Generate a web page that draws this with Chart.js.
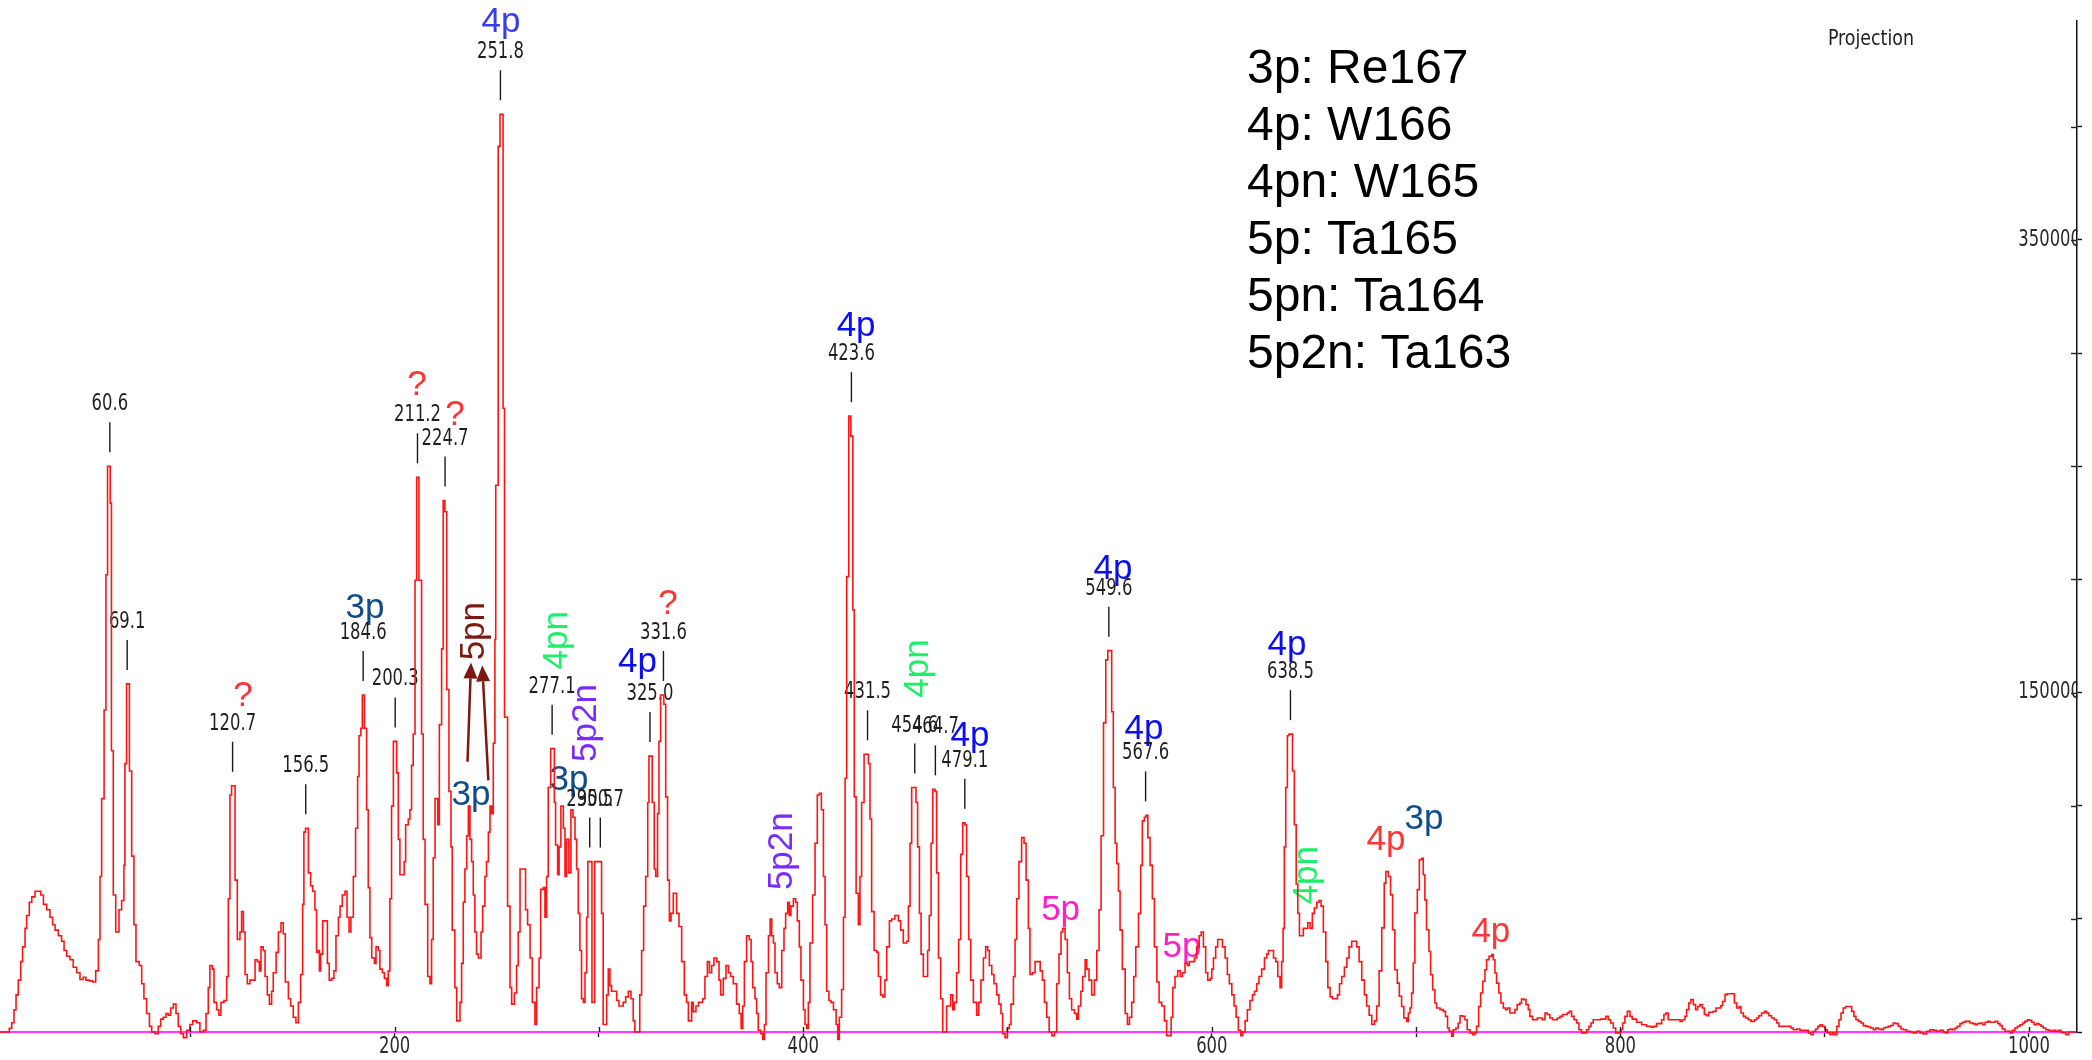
<!DOCTYPE html>
<html>
<head>
<meta charset="utf-8">
<title>Projection</title>
<script src="https://cdn.jsdelivr.net/npm/chart.js@4.4.1/dist/chart.umd.min.js"></script>
<style>
  html, body { margin: 0; padding: 0; background: #fff; }
  #spectrum { display: block; }
</style>
</head>
<body>
<canvas id="spectrum" width="2092" height="1060"></canvas>
<script>
// Gated projection spectrum: [channel, counts] at each step of the histogram.
const spectrumA = [ // channels 7-180
  [6.85,0],[11.4,1600],[12.6,4100],[13.7,9800],[14.7,16400],[15.8,22900],[17.0,31100],[17.9,37600],[19.1,45800],[19.9,51500],
  [21.2,57300],[22.4,59700],[24.0,62200],[26.8,60500],[28.1,56400],[29.7,54000],[31.3,50700],[32.6,47400],[33.8,45000],[35.4,42500],
  [37.0,40100],[38.2,36000],[39.5,33500],[41.1,31900],[42.7,28600],[44.4,26200],[46.0,23200],[47.6,24200],[48.9,22900],[50.6,22600],
  [52.2,22100],[53.7,27000],[55.0,40900],[55.8,68700],[56.6,103100],[57.8,142300],[58.7,202000],[59.5,250000],[60.8,233700],[61.4,124300],
  [62.3,60500],[63.5,44200],[65.1,54000],[66.4,58100],[67.5,73600],[68.0,118600],[68.8,153800],[70.2,115300],[71.3,77700],[72.4,47400],
  [73.4,31100],[75.0,29400],[76.2,21300],[77.3,14700],[78.6,8200],[80.0,2500],[81.1,0],[82.7,-800],[84.3,2500],[85.5,5700],
  [86.8,6500],[88.1,8200],[89.2,7400],[90.4,10600],[91.7,12300],[93.0,8200],[94.1,2500],[95.3,-800],[96.6,-2500],[98.2,800],
  [99.8,3300],[101.2,4900],[103.1,4100],[104.7,0],[106.4,800],[107.7,8200],[108.8,19600],[109.6,29400],[110.8,27800],[111.6,13100],
  [112.9,9800],[114.0,7400],[115.0,13100],[116.5,13900],[117.8,24500],[118.6,58900],[119.4,104700],[120.2,108800],[121.9,67100],[123.0,40900],
  [124.3,44200],[125.1,53200],[126.0,44200],[126.8,25400],[127.9,21300],[129.2,22900],[131.7,31900],[132.8,31100],[133.8,27000],[134.6,37600],
  [135.7,36000],[136.6,24500],[137.7,16400],[138.7,12300],[139.8,18000],[140.6,26200],[142.0,35200],[143.1,44200],[144.4,48300],[145.5,43400],
  [146.5,22100],[148.0,14700],[149.1,11500],[150.4,6500],[151.7,4100],[152.9,13100],[154.0,25400],[155.0,56400],[155.6,88300],[156.4,90000],
  [157.8,70300],[158.9,64600],[159.9,62200],[161.0,54000],[161.8,35200],[162.7,36000],[163.2,27000],[163.8,34400],[164.8,49100],[167.1,30300],
  [168.0,22900],[169.2,23700],[170.3,27000],[171.3,42500],[172.5,50700],[173.3,55600],[174.4,60500],[175.7,62200],[176.7,50700],[177.7,44200],
  [178.6,50700],[179.8,68700]
];
const spectrumB = [ // channels 180-345
  [180.9,90000],[181.9,112900],[182.6,130900],[183.5,134200],[184.2,148900],[185.2,134200],[186.3,98200],[187.1,63800],[187.9,41700],[188.8,32700],
  [190.1,30300],[190.9,37600],[192.0,36000],[192.8,27800],[194.0,26200],[195.0,23700],[196.1,20500],[196.9,27000],[197.7,58900],[198.5,99800],
  [199.4,128400],[201.0,114500],[201.8,85100],[202.6,69500],[204.7,75300],[205.4,91600],[206.7,94100],[207.5,98200],[208.3,117800],[209.1,131700],
  [210.0,199600],[210.8,245100],[211.9,199600],[213.2,131700],[214.0,85100],[214.9,56400],[216.2,24500],[217.3,21300],[218.1,40900],[218.9,76900],
  [219.8,103100],[221.1,91600],[221.9,135800],[223.0,169300],[223.8,234800],[224.6,229900],[225.5,151300],[226.6,106300],[227.6,81800],[228.2,45000],
  [229.5,19600],[230.4,4900],[232.0,13100],[232.8,30300],[233.6,57300],[234.4,72000],[235.3,86700],[236.1,99800],[236.9,85100],[237.7,75300],
  [238.5,60500],[239.3,44200],[240.1,34400],[241.0,32700],[242.3,44200],[243.1,55600],[244.2,68700],[245.0,75300],[245.9,88300],[246.7,99800],
  [247.5,96500],[248.3,127600],[249.1,173400],[249.5,241600],[250.7,391300],[251.6,405500],[253.1,275600],[253.8,139100],[255.3,55600],[256.5,19600],
  [257.3,12300],[258.6,17200],[259.7,29400],[260.5,44200],[261.4,72000],[264.1,54000],[265.1,47400],[266.3,32700],[267.4,13100],[268.7,3300],
  [269.5,19600],[270.7,32700],[271.5,63000],[272.8,63800],[273.6,50700],[274.4,68700],[275.2,108000],[276.4,125200],[278.2,101400],[278.8,82600],
  [279.8,69500],[280.5,81800],[281.4,99800],[282.6,90000],[283.4,68700],[284.2,85100],[285.3,70300],[286.3,98200],[287.3,94900],[288.3,85100],
  [289.1,72000],[289.9,52400],[290.7,36000],[291.5,14700],[292.4,13100],[293.2,26200],[294.0,50700],[294.6,75300],[296.6,13100],[297.9,75300],
  [301.3,52400],[302.1,3300],[303.8,16400],[304.6,27800],[305.4,20500],[306.2,18000],[308.7,13900],[309.8,11500],[311.9,13100],[313.1,15500],
  [314.4,18000],[315.7,14700],[316.8,4900],[317.6,0],[320.0,16400],[320.9,36000],[321.9,55600],[322.9,68700],[323.9,101400],[324.5,121900],
  [326.1,101400],[327.1,72000],[327.8,68700],[328.7,96500],[329.4,128400],[330.2,148900],[331.8,144800],[332.7,103900],[333.6,67100],[334.5,49100],
  [335.3,52400],[336.4,61300],[338.0,52400],[339.2,46600],[340.5,31100],[341.8,16400],[342.9,13100],[343.8,4900]
];
const spectrumC = [ // channels 345-515
  [345.4,13100],[346.2,9000],[347.5,11500],[348.7,13100],[350.8,14700],[351.9,24500],[353.1,31100],[354.1,26200],[355.2,29400],[356.3,32700],
  [357.7,31100],[358.8,22900],[359.6,16400],[360.9,23700],[362.2,29400],[363.4,26200],[364.5,24500],[365.8,21300],[367.4,12300],[368.7,8200],
  [369.6,1600],[370.4,11500],[371.2,31100],[372.3,42500],[373.6,40900],[374.5,31100],[375.3,19600],[376.4,14700],[377.2,8200],[378.0,800],
  [379.2,-800],[380.2,-3300],[381.0,3300],[381.8,26200],[383.0,42500],[383.8,49900],[384.6,42500],[385.4,39300],[386.2,26200],[387.3,21300],
  [388.3,19600],[389.5,36000],[390.6,45800],[391.4,52400],[392.4,57300],[393.2,51500],[394.0,55600],[395.2,58900],[396.3,57300],[397.1,49100],
  [398.1,37600],[398.9,22900],[400.1,9800],[400.9,3300],[401.7,1600],[402.5,13100],[403.3,39300],[404.6,60500],[405.8,83400],[406.9,104700],
  [407.9,105500],[408.9,98200],[409.9,68700],[410.7,47400],[411.5,18000],[412.6,13900],[413.6,13100],[414.8,9800],[416.1,3300],[416.9,-3300],
  [417.7,6500],[418.8,18800],[419.7,50700],[420.5,112100],[421.3,201200],[422.3,272100],[423.3,263300],[424.3,186500],[425.0,103900],[425.9,61300],
  [427.0,47400],[427.8,68700],[428.6,101400],[429.8,122700],[431.9,118600],[432.7,94100],[433.5,53200],[434.7,36000],[436.0,35200],[436.8,24500],
  [437.9,16400],[438.9,15500],[440.0,22900],[440.9,37600],[442.2,49100],[443.3,49900],[444.9,51500],[446.6,49100],[447.7,45000],[449.0,39300],
  [450.7,40100],[451.5,55600],[452.3,83400],[453.1,108000],[455.2,101400],[456.0,81800],[456.9,52400],[457.7,34400],[458.8,24500],[460.9,36000],
  [461.7,51500],[462.6,83400],[463.4,107200],[464.5,106300],[465.3,70300],[466.2,32700],[467.3,14700],[468.3,0],[470.2,11500],[472.2,16400],
  [473.2,9800],[474.0,13100],[475.1,26200],[476.1,40900],[477.1,78500],[478.1,92400],[479.2,91600],[480.0,68700],[481.0,40900],[482.0,22900],
  [483.3,13100],[484.9,7400],[485.9,13100],[487.0,22900],[488.2,32700],[489.3,37600],[490.3,36000],[491.1,29400],[492.3,25400],[493.4,21300],
  [494.7,16400],[495.8,12300],[496.8,8200],[497.6,-800],[498.8,-2500],[499.9,1600],[500.9,3300],[501.7,12300],[502.9,24500],[503.7,40900],
  [504.5,58900],[505.6,75300],[506.9,85900],[508.1,83400],[509.1,67100],[510.2,45800],[511.0,25400],[512.2,26200],[513.5,31100]
];
const spectrumD = [ // channels 515-687
  [516.0,27000],[517.1,22900],[518.1,13100],[519.2,6500],[520.4,0],[521.7,-1600],[523.0,0],[524.1,21300],[525.2,34400],[526.2,44200],
  [527.0,45800],[528.2,40900],[529.3,26200],[530.3,14700],[531.4,9800],[532.8,8200],[533.9,5700],[534.7,11500],[535.9,18000],[536.8,24500],
  [538.0,31900],[538.8,27800],[539.9,22900],[541.2,16400],[542.5,22900],[543.7,36000],[544.8,54000],[545.8,86700],[547.0,136600],[548.1,164400],
  [549.1,168500],[551.0,141500],[551.8,108000],[552.7,83400],[553.5,74400],[554.3,62200],[555.1,45000],[556.2,27800],[557.6,8200],[558.7,3300],
  [559.7,6500],[560.8,13100],[561.8,24500],[562.8,37600],[564.1,52400],[565.2,73600],[566.0,93300],[567.0,94900],[567.8,95700],[568.7,85900],
  [569.8,73600],[570.9,58900],[571.9,37600],[573.1,22100],[574.2,13100],[575.5,11500],[576.8,4900],[577.9,-1600],[580.1,6500],[580.9,19600],
  [582.0,24500],[583.3,27000],[584.5,24500],[585.6,26200],[586.9,30300],[588.1,29400],[589.0,31100],[591.5,32700],[592.6,37600],[593.8,42500],
  [594.8,44200],[595.9,37600],[597.0,26200],[598.0,22900],[599.2,23700],[600.0,27800],[600.8,32700],[601.9,37600],[602.9,40900],[605.2,37600],
  [606.5,32700],[607.6,25400],[608.6,21300],[609.8,16400],[610.9,11500],[611.9,6500],[613.0,800],[614.2,-1600],[615.1,0],[616.3,4900],
  [617.4,9800],[618.7,13900],[619.9,16400],[620.9,18000],[622.0,21300],[623.1,24500],[624.4,27800],[625.8,32700],[626.9,34400],[627.7,36000],
  [630.2,32700],[631.3,31100],[632.3,24500],[633.4,19600],[634.2,31100],[634.9,45800],[635.5,81800],[636.2,108000],[637.0,130900],[637.8,131600],
  [639.5,115300],[640.4,91600],[641.3,65400],[642.1,52400],[642.9,42500],[644.8,45800],[647.0,48300],[648.1,45800],[649.2,52400],[650.2,54800],
  [651.4,57300],[652.5,58100],[653.5,55600],[654.6,44200],[655.8,31100],[656.8,19600],[657.9,15500],[659.0,14700],[661.5,16400],[662.5,21300],
  [663.6,24500],[664.9,28600],[666.1,32700],[667.2,37600],[668.5,40100],[670.9,37600],[672.1,31100],[673.4,22900],[674.7,16400],[675.8,11500],
  [677.0,7400],[678.3,3300],[679.6,4900],[680.7,11500],[681.9,27000],[683.2,46000],[684.4,65800],[685.2,70900],[686.4,68700]
];
const spectrumE = [ // channels 687-1023
  [687.5,60600],[688.5,45200],[689.6,27500],[690.8,21600],[691.8,15800],[692.9,11300],[694.0,6200],[695.4,4700],[696.2,8400],[697.0,10600],
  [697.8,17200],[698.6,30500],[699.4,52600],[700.6,62900],[701.6,76100],[702.7,76800],[703.5,69500],[704.3,58400],[705.1,45200],[706.3,35600],
  [707.1,25300],[708.1,18700],[709.2,12800],[710.0,10600],[711.7,9900],[713.3,9100],[714.4,6900],[715.4,1800],[716.2,300],[717.4,-1900],
  [718.2,1000],[719.5,1800],[720.6,4000],[721.5,7200],[722.8,6900],[723.9,5400],[725.0,1000],[726.4,-400],[727.7,-1200],[728.8,-400],
  [729.6,2500],[730.6,11300],[731.6,17200],[732.6,22400],[733.7,27500],[734.5,31900],[735.7,33400],[737.0,34200],[737.8,31900],[738.6,26100],
  [739.4,21600],[740.5,17200],[741.5,12800],[742.7,10600],[743.8,9900],[744.8,10600],[745.9,8400],[748.4,9900],[749.5,12100],[750.8,12800],
  [751.6,14600],[752.8,14300],[753.8,12100],[754.9,9900],[755.7,6900],[757.0,5400],[759.3,6200],[761.8,5400],[763.1,8400],[764.2,7700],
  [765.5,6200],[766.8,5400],[769.1,6200],[770.4,6900],[771.7,7700],[774.0,8400],[775.0,9100],[776.1,6900],[777.3,5400],[778.6,4000],
  [779.7,1000],[781.0,-400],[783.5,1000],[784.6,2500],[785.6,4000],[786.7,5400],[790.3,5700],[792.9,6900],[794.1,5400],[795.2,4000],
  [796.5,1800],[797.7,-400],[800.1,1000],[801.1,4000],[802.2,6900],[803.4,9100],[804.7,6900],[805.8,5700],[807.9,4300],[810.4,3200],
  [812.8,2500],[815.3,2100],[816.4,2500],[817.7,3700],[820.2,5400],[821.3,7700],[822.3,8400],[823.4,5400],[829.2,4700],[830.3,5400],
  [831.6,6900],[832.4,9900],[833.5,12800],[834.5,14300],[835.7,12100],[836.8,9900],[837.8,11300],[838.9,12100],[840.1,10600],[841.1,7700],
  [842.2,7200],[843.3,8700],[845.5,9100],[846.8,10600],[849.1,11600],[850.0,13500],[851.2,16500],[852.2,16900],[855.8,12800],[856.9,10600],
  [858.1,11300],[859.0,8400],[860.2,6900],[861.3,6200],[862.6,5400],[863.9,4700],[865.6,5400],[866.7,6200],[867.8,7200],[869.1,8400],
  [870.5,9100],[871.6,8400],[872.7,7200],[874.0,6200],[875.3,5400],[876.5,4000],[877.6,2500],[883.5,1800],[884.6,1000],[886.3,1300],
  [887.9,700],[892.0,-400],[893.3,-1200],[894.4,300],[895.6,1300],[896.6,2500],[897.7,3200],[898.8,2500],[900.1,1000],[901.3,-400],
  [902.6,-1200],[903.7,-400],[904.7,-1200],[905.9,2500],[907.0,5400],[908.0,8400],[909.1,10600],[910.3,11300],[913.2,9100],[914.3,6900],
  [915.3,5400],[916.5,4700],[917.8,4000],[918.9,2800],[920.1,2500],[921.4,2200],[922.5,1800],[923.8,1000],[925.0,1800],[926.3,1300],
  [927.6,1000],[928.7,1800],[929.8,2100],[931.1,2500],[932.3,2900],[933.6,4000],[934.7,3700],[936.0,2500],[937.3,1300],[938.5,1000],
  [940.1,300],[941.8,0],[943.4,-400],[945.0,300],[946.6,-400],[948.3,-900],[949.9,300],[951.5,1000],[953.2,700],[954.8,300],
  [956.4,700],[958.1,-100],[959.2,-400],[960.2,1000],[961.3,1300],[962.5,1000],[963.8,1800],[964.9,2500],[966.2,3700],[967.4,4300],
  [968.7,4700],[971.1,4000],[972.3,3700],[973.6,3200],[974.7,3700],[976.0,4000],[977.3,3200],[978.5,4300],[979.8,4700],[980.9,4300],
  [983.4,4700],[984.7,3700],[985.8,2800],[986.9,1300],[988.3,300],[990.7,-400],[991.8,700],[993.1,1800],[994.3,2500],[995.6,3200],
  [996.9,4000],[998.0,4700],[999.2,5400],[1000.2,5200],[1001.3,4300],[1002.5,3200],[1003.8,3700],[1004.9,3200],[1005.9,2500],[1007.0,1800],
  [1008.2,1000],[1009.5,700],[1010.6,300],[1011.9,700],[1013.1,300],[1014.4,700],[1015.7,-100],[1016.8,-400],[1018.0,-1200],[1019.3,0],
  [1021.7,0],[1023.0,0]
];

// peaks marked with their centroid channel
const labelledPeaks = [60.6, 69.1, 120.7, 156.5, 184.6, 200.3, 211.2, 224.7, 251.8, 277.1, 295.5, 300.7,
  325.0, 331.6, 423.6, 431.5, 454.6, 464.7, 479.1, 549.6, 567.6, 638.5];

// reaction channel assignments, anchored at [channel, counts]
const tags = [
  { text: '4p',   at: [252.1, 446100], kind: 'p4top' },
  { text: '?',    at: [125.8, 148400], kind: 'unknown' },
  { text: '?',    at: [211.0, 285800], kind: 'unknown' },
  { text: '?',    at: [229.6, 272500], kind: 'unknown' },
  { text: '?',    at: [333.8, 189000], kind: 'unknown' },
  { text: '3p',   at: [185.5, 187300], kind: 'p3' },
  { text: '5pn',  at: [238.9, 177100], kind: 'p5n', vertical: true },
  { text: '3p',   at: [237.4, 104700], kind: 'p3' },
  { text: '4pn',  at: [279.5, 173100], kind: 'p4n', vertical: true },
  { text: '5p2n', at: [293.7, 136500], kind: 'p5n2', vertical: true },
  { text: '3p',   at: [285.4, 111300], kind: 'p3' },
  { text: '4p',   at: [318.9, 163400], kind: 'p4' },
  { text: '5p2n', at: [389.9, 79900],  kind: 'p5n2', vertical: true },
  { text: '4p',   at: [425.9, 311800], kind: 'p4' },
  { text: '4pn',  at: [456.6, 160600], kind: 'p4n', vertical: true },
  { text: '4p',   at: [481.6, 130700], kind: 'p4' },
  { text: '5p',   at: [526.0, 53900],  kind: 'p5' },
  { text: '4p',   at: [551.6, 204500], kind: 'p4' },
  { text: '4p',   at: [566.8, 133800], kind: 'p4' },
  { text: '5p',   at: [585.4, 37500],  kind: 'p5' },
  { text: '4p',   at: [636.8, 170900], kind: 'p4' },
  { text: '4pn',  at: [646.6, 69300],  kind: 'p4n', vertical: true },
  { text: '4p',   at: [685.3, 84800],  kind: 'p4red' },
  { text: '3p',   at: [703.9, 94100],  kind: 'p3' },
  { text: '4p',   at: [736.6, 44200],  kind: 'p4red' }
];

// 3p -> 5pn pointers, [channel, counts] tail and tip
const pointers = [
  { from: [235.7, 119400], to: [237.4, 163300] },
  { from: [245.9, 111200], to: [242.9, 162000] }
];

const isotopeKey = ['3p: Re167', '4p: W166', '4pn: W165', '5p: Ta165', '5pn: Ta164', '5p2n: Ta163'];

// axis ticks, and the ones that carry a number
const channelTicks = [100, 200, 300, 400, 500, 600, 700, 800, 900, 1000];
const labelledChannels = [200, 400, 600, 800, 1000];
const countTicks = [0, 50000, 100000, 150000, 200000, 250000, 300000, 350000, 400000];
const labelledCounts = [150000, 350000];

const tagColors = {
  p4top: '#3a3af0', p4: '#0d0df2', p3: '#0f4c8a', p4n: '#1eef6a', p5n2: '#7a2cff',
  p5: '#ff1fc8', p5n: '#7a1a10', unknown: '#ff3333', p4red: '#ff3636'
};

const NARROW_FAMILY = '"Liberation Sans Narrow", "DejaVu Sans Condensed", "Liberation Sans", sans-serif';
const WIDE = '"Liberation Sans", Arial, sans-serif';

// small plot labels are drawn squeezed so "251.8" comes out about 47px wide
const probe = document.createElement('canvas').getContext('2d');
probe.font = '23px ' + NARROW_FAMILY;
const SQUEEZE = Math.min(1, 47 / probe.measureText('251.8').width);

const points = [].concat(spectrumA, spectrumB, spectrumC, spectrumD, spectrumE).map(p => ({ x: p[0], y: p[1] }));

function peakTop(ch) {
  let best = 0;
  for (let i = 0; i < points.length; i++) {
    const a = points[i].x;
    const b = i + 1 < points.length ? points[i + 1].x : a;
    if (b >= ch - 1.6 && a <= ch + 1.6) best = Math.max(best, points[i].y);
  }
  return best;
}

function squeezed(ctx, text, x, y, sx) {
  ctx.save();
  ctx.translate(x, y);
  ctx.scale(sx || SQUEEZE, 1);
  ctx.fillText(text, 0, 0);
  ctx.restore();
}

const annotate = {
  id: 'annotate',
  beforeDatasetsDraw(chart) {
    const { ctx, scales: { x, y } } = chart;
    ctx.save();

    // channel tags
    ctx.font = '35px ' + WIDE;
    ctx.textAlign = 'center';
    ctx.textBaseline = 'middle';
    tags.forEach(t => {
      const px = x.getPixelForValue(t.at[0]);
      const py = y.getPixelForValue(t.at[1]);
      ctx.fillStyle = tagColors[t.kind];
      if (t.vertical) {
        ctx.save();
        ctx.translate(px, py);
        ctx.rotate(-Math.PI / 2);
        ctx.fillText(t.text, 0, 0);
        ctx.restore();
      } else {
        ctx.fillText(t.text, px, py);
      }
    });

    // arrows from 3p to 5pn
    ctx.strokeStyle = tagColors.p5n;
    ctx.fillStyle = tagColors.p5n;
    ctx.lineWidth = 2.5;
    pointers.forEach(p => {
      const x0 = x.getPixelForValue(p.from[0]), y0 = y.getPixelForValue(p.from[1]);
      const x1 = x.getPixelForValue(p.to[0]), y1 = y.getPixelForValue(p.to[1]);
      const ang = Math.atan2(y1 - y0, x1 - x0);
      const len = 16, half = 7;
      const bx = x1 - len * Math.cos(ang), by = y1 - len * Math.sin(ang);
      ctx.beginPath();
      ctx.moveTo(x0, y0);
      ctx.lineTo(bx, by);
      ctx.stroke();
      ctx.beginPath();
      ctx.moveTo(x1, y1);
      ctx.lineTo(bx + half * Math.sin(ang), by - half * Math.cos(ang));
      ctx.lineTo(bx - half * Math.sin(ang), by + half * Math.cos(ang));
      ctx.closePath();
      ctx.fill();
    });

    // centroid markers
    ctx.strokeStyle = '#1a1a1a';
    ctx.fillStyle = '#1f1f1f';
    ctx.lineWidth = 1.4;
    ctx.font = '23px ' + NARROW_FAMILY;
    labelledPeaks.forEach(ch => {
      const px = x.getPixelForValue(ch);
      const py = y.getPixelForValue(peakTop(ch));
      ctx.beginPath();
      ctx.moveTo(px, py - 44);
      ctx.lineTo(px, py - 14);
      ctx.stroke();
      squeezed(ctx, ch.toFixed(1), px, py - 62);
    });
    ctx.restore();
  },
  afterDraw(chart) {
    const { ctx, chartArea: area, scales: { x, y } } = chart;
    ctx.save();

    // tick marks reach into the plot as well
    ctx.strokeStyle = '#222';
    ctx.lineWidth = 1.4;
    x.ticks.forEach(t => {
      const px = Math.round(x.getPixelForValue(t.value)) + 0.5;
      ctx.beginPath();
      ctx.moveTo(px, area.bottom - 5);
      ctx.lineTo(px, area.bottom);
      ctx.stroke();
    });
    y.ticks.forEach(t => {
      if (t.value === 0) return;
      const py = Math.round(y.getPixelForValue(t.value)) + 0.5;
      ctx.beginPath();
      ctx.moveTo(area.right - 6, py);
      ctx.lineTo(area.right, py);
      ctx.stroke();
    });

    // tick labels
    ctx.fillStyle = '#2a2a2a';
    ctx.font = '23px ' + NARROW_FAMILY;
    ctx.textAlign = 'center';
    ctx.textBaseline = 'middle';
    labelledChannels.forEach(v => {
      squeezed(ctx, String(v), x.getPixelForValue(v), area.bottom + 15);
    });
    // count labels sit just inside the right axis, their last digit cut by it
    ctx.textAlign = 'right';
    labelledCounts.forEach(v => {
      const py = y.getPixelForValue(v);
      ctx.save();
      ctx.beginPath();
      ctx.rect(area.right - 100, py - 20, 100.5, 40);
      ctx.clip();
      squeezed(ctx, String(v), area.right + 4, py);
      ctx.restore();
    });

    // isotope key
    ctx.fillStyle = '#000';
    ctx.font = '48px ' + WIDE;
    ctx.textAlign = 'left';
    ctx.textBaseline = 'alphabetic';
    const keyLeft = area.left + area.width * 0.6004;
    isotopeKey.forEach((line, i) => ctx.fillText(line, keyLeft, area.top + 62 + i * 57));

    // spectrum title
    ctx.fillStyle = '#222';
    ctx.font = '21px ' + NARROW_FAMILY;
    ctx.textAlign = 'center';
    const titleScale = Math.min(1, 86 / ctx.measureText('Projection').width);
    squeezed(ctx, 'Projection', area.left + area.width * 0.9008, area.top + 24, titleScale);
    ctx.restore();
  }
};

new Chart(document.getElementById('spectrum'), {
  type: 'line',
  data: {
    datasets: [{
      data: points,
      stepped: true,
      borderColor: '#ff1414',
      borderWidth: 1.6,
      pointRadius: 0,
      fill: false,
      clip: { left: 2, top: 2, right: 2, bottom: 10 }
    }]
  },
  options: {
    responsive: false,
    animation: false,
    devicePixelRatio: 1,
    parsing: false,
    layout: { padding: { top: 21, right: 10, left: 0, bottom: 23 } },
    plugins: { legend: { display: false }, tooltip: { enabled: false } },
    scales: {
      x: {
        type: 'linear',
        position: 'bottom',
        min: 6.85,
        max: 1023.5,
        z: 1,
        afterBuildTicks: axis => { axis.ticks = channelTicks.map(v => ({ value: v })); },
        ticks: { display: false, autoSkip: false },
        grid: { drawOnChartArea: false, tickLength: 5, color: '#222', tickWidth: 1.4 },
        border: { color: '#ff3cff', width: 2.2 }
      },
      y: {
        position: 'right',
        min: 0,
        max: 446700,
        afterBuildTicks: axis => { axis.ticks = countTicks.map(v => ({ value: v })); },
        ticks: { display: false, autoSkip: false },
        grid: { drawOnChartArea: false, tickLength: 5, color: '#111', tickWidth: 1.4 },
        border: { color: '#111', width: 1.5 }
      }
    }
  },
  plugins: [annotate]
});
</script>
</body>
</html>
